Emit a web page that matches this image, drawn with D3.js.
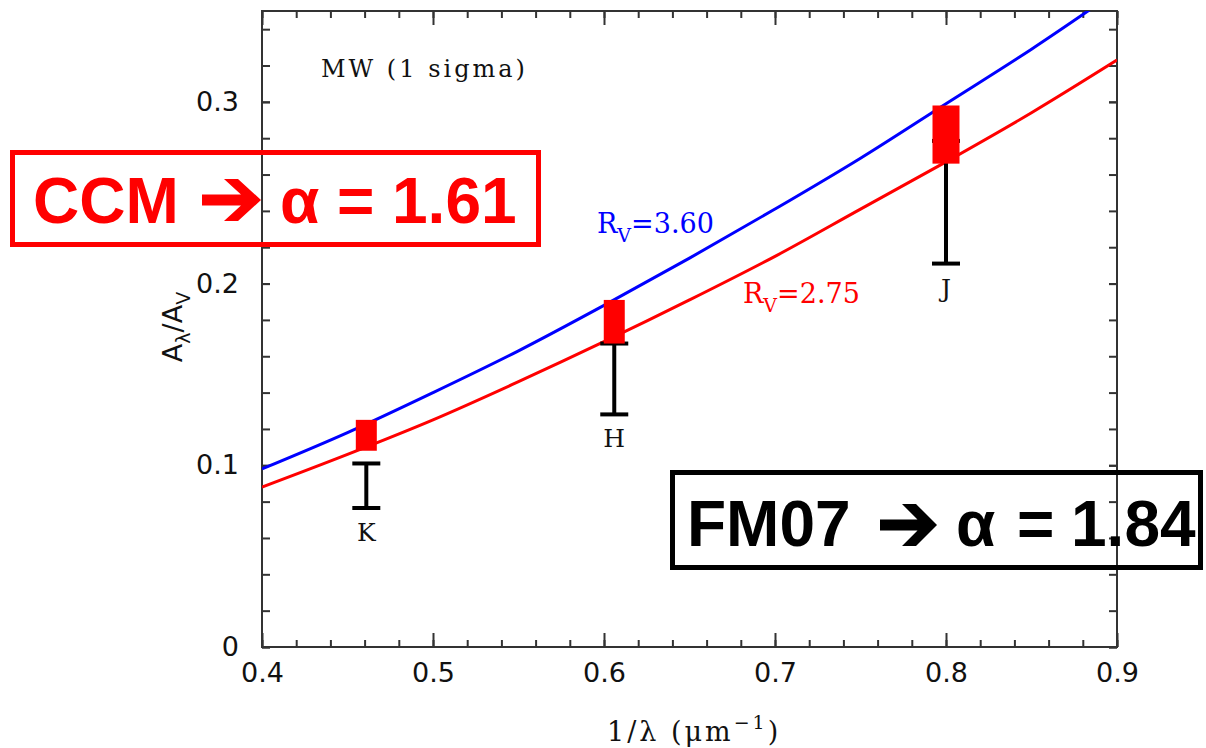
<!DOCTYPE html>
<meta charset="utf-8">
<script src="https://d3js.org/d3.v7.min.js"></script>
<style>
  body { margin: 0; background: #fff; }
</style>
<div id="chart"></div>
<script>
// curves (A_lambda / A_V vs 1/lambda)
var curveX = [0.40, 0.45, 0.50, 0.55, 0.60, 0.65, 0.70, 0.75, 0.80, 0.85, 0.90];
var rv360 = [0.098, 0.118, 0.140, 0.163, 0.188, 0.214, 0.241, 0.269, 0.299, 0.329, 0.361];
var rv275 = [0.088, 0.106, 0.125, 0.146, 0.168, 0.191, 0.215, 0.241, 0.267, 0.294, 0.323];

// bands
var bands = ["K", "H", "J"];
var bandX = [0.461, 0.606, 0.800];
var ccmLo = [0.108, 0.167, 0.266];   // red boxes
var ccmHi = [0.125, 0.191, 0.298];
var obsLo = [0.0765, 0.128, 0.211];  // black bars
var obsHi = [0.101, 0.167, 0.2785];

var xTicks = [0.4, 0.5, 0.6, 0.7, 0.8, 0.9];
var yTicks = [0, 0.1, 0.2, 0.3];

var W = 1206, H = 748;
var pL = 262, pR = 1117, pT = 11, pB = 647;

var svg = d3.select("#chart").append("svg")
  .attr("width", W).attr("height", H);

var x = d3.scaleLinear().domain([0.4, 0.9]).range([pL, pR]);
var y = d3.scaleLinear().domain([0, 0.35]).range([pB, pT]);

var axisCol = "#333";

// inward ticks like pgplot
function drawAxis(ax, tr) {
  var g = svg.append("g").attr("transform", tr).call(ax);
  g.select(".domain").remove();
  g.selectAll(".tick line").attr("stroke", axisCol).attr("stroke-width", 2);
  g.selectAll("text").attr("fill", "#111").style("font-family", "DejaVu Sans").style("font-size", "27px");
  return g;
}
var xMinor = d3.range(0, 26).map(function(i) { return 0.4 + i * 0.02; });
var yMinor = d3.range(0, 18).map(function(i) { return i * 0.02; });

drawAxis(d3.axisBottom(x).tickValues(xMinor).tickSize(-7).tickFormat(""), "translate(0," + pB + ")");
drawAxis(d3.axisTop(x).tickValues(xMinor).tickSize(-7).tickFormat(""), "translate(0," + pT + ")");
drawAxis(d3.axisLeft(y).tickValues(yMinor).tickSize(-8).tickFormat(""), "translate(" + pL + ",0)");
drawAxis(d3.axisRight(y).tickValues(yMinor).tickSize(-8).tickFormat(""), "translate(" + pR + ",0)");

drawAxis(d3.axisBottom(x).tickValues(xTicks).tickSize(-14).tickPadding(16).tickFormat(d3.format(".1f")), "translate(0," + pB + ")");
drawAxis(d3.axisTop(x).tickValues(xTicks).tickSize(-14).tickFormat(""), "translate(0," + pT + ")");
drawAxis(d3.axisLeft(y).tickValues(yTicks).tickSize(-8).tickPadding(23).tickFormat(function(d) { return d === 0 ? "0" : d3.format(".1f")(d); }), "translate(" + pL + ",0)");
drawAxis(d3.axisRight(y).tickValues(yTicks).tickSize(-8).tickFormat(""), "translate(" + pR + ",0)");

// frame
svg.append("rect")
  .attr("x", pL).attr("y", pT)
  .attr("width", pR - pL).attr("height", pB - pT)
  .attr("fill", "none").attr("stroke", axisCol).attr("stroke-width", 2);

// clip
svg.append("clipPath").attr("id", "plotclip")
  .append("rect").attr("x", pL).attr("y", pT)
  .attr("width", pR - pL).attr("height", pB - pT);

var line = d3.line()
  .x(function(d) { return x(d[0]); })
  .y(function(d) { return y(d[1]); })
  .curve(d3.curveMonotoneX);

svg.append("path")
  .datum(d3.zip(curveX, rv360))
  .attr("d", line).attr("fill", "none")
  .attr("stroke", "#0000ff").attr("stroke-width", 3)
  .attr("clip-path", "url(#plotclip)");

svg.append("path")
  .datum(d3.zip(curveX, rv275))
  .attr("d", line).attr("fill", "none")
  .attr("stroke", "#ff0000").attr("stroke-width", 3)
  .attr("clip-path", "url(#plotclip)");

// black error bars
var capW = 28;
bands.forEach(function(b, i) {
  var cx = x(bandX[i]);
  svg.append("line")
    .attr("x1", cx).attr("x2", cx)
    .attr("y1", y(obsLo[i])).attr("y2", y(obsHi[i]))
    .attr("stroke", "#000").attr("stroke-width", 4);
  [obsLo[i], obsHi[i]].forEach(function(v) {
    svg.append("line")
      .attr("x1", cx - capW / 2).attr("x2", cx + capW / 2)
      .attr("y1", y(v)).attr("y2", y(v))
      .attr("stroke", "#000").attr("stroke-width", 4);
  });
  svg.append("text")
    .attr("x", cx).attr("y", y(obsLo[i]) + 33)
    .attr("text-anchor", "middle")
    .style("font-family", "DejaVu Serif").style("font-size", "25px")
    .attr("fill", "#111")
    .text(b);
});

// red boxes
var boxW = [21, 21, 27];
bands.forEach(function(b, i) {
  svg.append("rect")
    .attr("x", x(bandX[i]) - boxW[i] / 2)
    .attr("y", y(ccmHi[i]))
    .attr("width", boxW[i])
    .attr("height", y(ccmLo[i]) - y(ccmHi[i]))
    .attr("fill", "#ff0000");
});

// labels in plot
svg.append("text")
  .attr("x", 321).attr("y", 77)
  .style("font-family", "DejaVu Serif").style("font-size", "24px")
  .style("letter-spacing", "3px")
  .attr("fill", "#111")
  .text("MW (1 sigma)");

function rvLabel(tx, ty, val, col) {
  var t = svg.append("text").attr("x", tx).attr("y", ty)
    .style("font-family", "DejaVu Serif").style("font-size", "27px")
    .attr("fill", col);
  t.append("tspan").text("R");
  t.append("tspan").attr("dy", 9).style("font-size", "19px").text("V");
  t.append("tspan").attr("dy", -9).text("=" + val);
}
rvLabel(597, 233, "3.60", "#0000ff");
rvLabel(743, 303, "2.75", "#ff0000");

// axis titles
var xt = svg.append("text")
  .attr("x", 607).attr("y", 741)
  .style("font-family", "DejaVu Serif").style("font-size", "27px")
  .style("letter-spacing", "3px")
  .attr("fill", "#111");
xt.append("tspan").text("1/\u03bb (\u03bcm");
xt.append("tspan").attr("dy", -12).style("font-size", "19px").text("\u22121");
xt.append("tspan").attr("dy", 12).text(")");

var yt = svg.append("text")
  .attr("transform", "translate(182,327) rotate(-90)")
  .attr("text-anchor", "middle")
  .style("font-family", "DejaVu Sans").style("font-size", "27px")
  .attr("fill", "#111");
yt.append("tspan").text("A");
yt.append("tspan").attr("dy", 8).style("font-size", "19px").text("\u03bb");
yt.append("tspan").attr("dy", -8).text("/A");
yt.append("tspan").attr("dy", 8).style("font-size", "19px").text("V");

// annotation boxes
function arrow(x0, xh, tip, cy, col) {
  var hh = 21, sh = 5.5, t = 14;
  var xn = xh + (tip - t - xh) * ((hh - sh) / hh);
  var p = "M" + x0 + "," + (cy - sh) + "L" + xn + "," + (cy - sh) +
    "L" + xh + "," + (cy - hh) + "L" + (xh + t) + "," + (cy - hh) +
    "L" + tip + "," + cy +
    "L" + (xh + t) + "," + (cy + hh) + "L" + xh + "," + (cy + hh) +
    "L" + xn + "," + (cy + sh) + "L" + x0 + "," + (cy + sh) + "Z";
  svg.append("path").attr("d", p).attr("fill", col);
}

function txt(tx, ty, s, col) {
  return svg.append("text").attr("x", tx).attr("y", ty)
    .style("font-family", "Liberation Sans, Arial, sans-serif")
    .style("font-weight", "bold").style("font-size", "64px")
    .attr("fill", col).text(s);
}

function note(o) {
  svg.append("rect")
    .attr("x", o.bx).attr("y", o.by).attr("width", o.bw).attr("height", o.bh)
    .attr("fill", "none")
    .attr("stroke", o.col).attr("stroke-width", 5);
  txt(o.nameX, o.base, o.name, o.col);
  arrow(o.ax0, o.axh, o.atip, o.acy, o.col);
  txt(o.alphaX, o.base, "\u03b1", o.col);
  txt(o.eqX, o.base, "=", o.col);
  txt(o.valX, o.base, o.val, o.col);
}

note({bx: 12.5, by: 152.5, bw: 526, bh: 92, col: "#ff0000", name: "CCM", nameX: 33,
      ax0: 202, axh: 224, atip: 261, acy: 200, alphaX: 280, eqX: 337, valX: 392, base: 223, val: "1.61"});
note({bx: 672.5, by: 472.5, bw: 528, bh: 95, col: "#000000", name: "FM07", nameX: 687,
      ax0: 880, axh: 902, atip: 937, acy: 525, alphaX: 956, eqX: 1017, valX: 1071, base: 546, val: "1.84"});
</script>
